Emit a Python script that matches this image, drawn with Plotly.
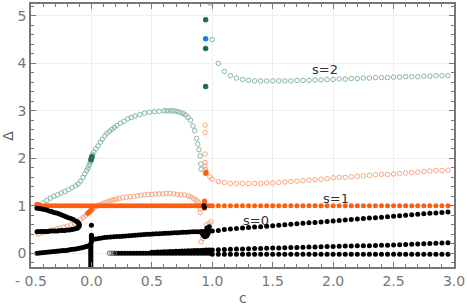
import plotly.graph_objects as go

# ---------------- data ----------------
# common c grid for the sparse part (c >= 1)
c_hi = [1.00, 1.05, 1.10, 1.15, 1.20, 1.25, 1.30, 1.35, 1.40, 1.45,
        1.50, 1.55, 1.60, 1.65, 1.70, 1.75, 1.80, 1.85, 1.90, 1.95,
        2.00, 2.05, 2.10, 2.15, 2.20, 2.25, 2.30, 2.35, 2.40, 2.45,
        2.50, 2.55, 2.60, 2.65, 2.70, 2.75, 2.80, 2.85, 2.90, 2.95]

# s=2 (teal, open) lower arc
s2a_c = [-0.43, -0.40, -0.37, -0.34, -0.31, -0.28, -0.25, -0.22, -0.19, -0.16,
         -0.13, -0.11, -0.09, -0.07, -0.055, -0.04, -0.03, -0.02, -0.012, -0.006,
         -0.003, 0.0, 0.002, 0.004, 0.006, 0.01, 0.02, 0.035, 0.055, 0.075,
         0.09, 0.11, 0.13, 0.15, 0.17, 0.19, 0.21, 0.24, 0.27, 0.30,
         0.33, 0.36, 0.40, 0.44, 0.48, 0.52, 0.56, 0.60, 0.62, 0.64,
         0.66, 0.68, 0.70, 0.72, 0.74, 0.76, 0.78, 0.80, 0.82, 0.84,
         0.855, 0.87, 0.88, 0.89, 0.90, 0.905, 0.907]
s2a_d = [1.00, 1.06, 1.11, 1.16, 1.20, 1.23, 1.27, 1.30, 1.34, 1.38,
         1.42, 1.46, 1.52, 1.60, 1.67, 1.74, 1.79, 1.85, 1.90, 1.94,
         1.97, 1.99, 2.01, 2.03, 2.05, 2.08, 2.13, 2.20, 2.26, 2.34,
         2.40, 2.47, 2.53, 2.57, 2.61, 2.65, 2.69, 2.74, 2.78, 2.83,
         2.86, 2.89, 2.92, 2.95, 2.97, 2.98, 2.99, 3.00, 3.00, 3.00,
         3.00, 3.00, 2.99, 2.98, 2.96, 2.94, 2.91, 2.86, 2.80, 2.68,
         2.58, 2.42, 2.30, 2.18, 2.05, 1.88, 1.77]
# s=2 upper branch
s2b_c = [0.98]
s2b_d = [5.27]
s2_hi_d = [4.50, 4.00, 3.83, 3.74, 3.69, 3.66, 3.64, 3.63, 3.63, 3.63,
           3.63, 3.63, 3.63, 3.63, 3.64, 3.64, 3.64, 3.65, 3.65, 3.66,
           3.66, 3.67, 3.67, 3.68, 3.68, 3.69, 3.69, 3.70, 3.70, 3.70,
           3.71, 3.71, 3.72, 3.72, 3.72, 3.73, 3.73, 3.74, 3.74, 3.74]
# s=2 filled points
s2f_c = [-0.003, 0.0, 0.003, 0.945, 0.945, 0.945]
s2f_d = [1.97, 2.00, 2.03, 4.92, 4.31, 3.51]
blue_c = [0.945]
blue_d = [4.52]

# s=1 (orange, open)
s1oa_c = [-0.44, -0.41, -0.38, -0.35, -0.32, -0.29, -0.26, -0.23, -0.20, -0.17,
          -0.14, -0.115, -0.09, -0.07, -0.05, -0.035, -0.02, -0.008, 0.005, 0.02,
          0.035, 0.05, 0.07, 0.09, 0.11, 0.13, 0.15, 0.17, 0.19, 0.21,
          0.23, 0.26, 0.29, 0.32, 0.35, 0.38, 0.41, 0.44, 0.47, 0.50,
          0.53, 0.56, 0.59, 0.62, 0.65, 0.68, 0.71, 0.74, 0.77, 0.80,
          0.82, 0.84, 0.86, 0.875, 0.885, 0.895, 0.90, 0.90]
s1oa_d = [0.40, 0.43, 0.45, 0.47, 0.49, 0.51, 0.53, 0.55, 0.57, 0.60,
          0.63, 0.67, 0.71, 0.75, 0.79, 0.83, 0.86, 0.89, 0.92, 0.95,
          0.98, 1.00, 1.02, 1.04, 1.06, 1.08, 1.10, 1.12, 1.13, 1.14,
          1.15, 1.17, 1.18, 1.19, 1.20, 1.21, 1.22, 1.23, 1.24, 1.24,
          1.25, 1.25, 1.25, 1.26, 1.26, 1.25, 1.24, 1.23, 1.23, 1.21,
          1.19, 1.16, 1.13, 1.10, 1.07, 1.00, 0.94, 0.86]
s1ob_c = [0.907, 0.92, 0.953, 0.975, 0.99, 0.94, 0.94, 0.94, 0.94, 0.94, 0.942, 0.944, 0.98]
s1ob_d = [0.24, 0.31, 0.60, 0.63, 0.66, 2.70, 2.54, 2.09, 1.91, 1.84, 1.77, 1.72, 1.61]
s1o_hi_d = [1.56, 1.51, 1.49, 1.47, 1.47, 1.47, 1.47, 1.47, 1.47, 1.48,
            1.48, 1.49, 1.50, 1.51, 1.52, 1.53, 1.54, 1.55, 1.56, 1.57,
            1.59, 1.60, 1.60, 1.61, 1.62, 1.63, 1.64, 1.65, 1.66, 1.66,
            1.67, 1.68, 1.69, 1.70, 1.71, 1.72, 1.73, 1.74, 1.74, 1.75]

# s=1 (orange, filled)
s1f_c = [-0.45, -0.425, -0.40, -0.375, -0.35, -0.325, -0.30, -0.275, -0.25, -0.225,
         -0.20, -0.175, -0.15, -0.125, -0.10, -0.075, -0.05, -0.025, 0.0, 0.025,
         0.05, 0.075, 0.10, 0.125, 0.15, 0.175, 0.20, 0.225, 0.25, 0.275,
         0.30, 0.325, 0.35, 0.375, 0.40, 0.425, 0.45, 0.475, 0.50, 0.525,
         0.55, 0.575, 0.60, 0.625, 0.65, 0.675, 0.70, 0.725, 0.75, 0.775,
         0.80, 0.825, 0.85, 0.875, 0.90, 0.925, 0.95, 0.975]
s1f_d = [1.0, 1.0, 1.0, 1.0, 1.0, 1.0, 1.0, 1.0, 1.0, 1.0,
         1.0, 1.0, 1.0, 1.0, 1.0, 1.0, 1.0, 1.0, 1.0, 1.0,
         1.0, 1.0, 1.0, 1.0, 1.0, 1.0, 1.0, 1.0, 1.0, 1.0,
         1.0, 1.0, 1.0, 1.0, 1.0, 1.0, 1.0, 1.0, 1.0, 1.0,
         1.0, 1.0, 1.0, 1.0, 1.0, 1.0, 1.0, 1.0, 1.0, 1.0,
         1.0, 1.0, 1.0, 1.0, 1.0, 1.0, 1.0, 1.0]
s1fx_c = [-0.45, -0.45, -0.435, -0.435, -0.03, -0.02, -0.01, 0.0,
          0.935, 0.935, 0.935, 0.94, 0.945, 0.95]
s1fx_d = [0.97, 1.03, 0.98, 1.02, 0.84, 0.87, 0.89, 0.91,
          0.95, 1.05, 1.10, 1.02, 1.68, 1.70]
s1f_hi_d = [1.0, 1.0, 1.0, 1.0, 1.0, 1.0, 1.0, 1.0, 1.0, 1.0,
            1.0, 1.0, 1.0, 1.0, 1.0, 1.0, 1.0, 1.0, 1.0, 1.0,
            1.0, 1.0, 1.0, 1.0, 1.0, 1.0, 1.0, 1.0, 1.0, 1.0,
            1.0, 1.0, 1.0, 1.0, 1.0, 1.0, 1.0, 1.0, 1.0, 1.0]

# s=0 (black, filled)
s0_fold_c = [-0.45, -0.43, -0.41, -0.39, -0.37, -0.35, -0.33, -0.31, -0.29, -0.27,
             -0.25, -0.23, -0.21, -0.19, -0.17, -0.15, -0.13, -0.115, -0.105, -0.10,
             -0.102, -0.108, -0.115, -0.125, -0.14, -0.16, -0.18, -0.20, -0.22, -0.24,
             -0.26, -0.28, -0.30, -0.32, -0.34, -0.36, -0.38, -0.40, -0.42, -0.44, -0.45]
s0_fold_d = [0.95, 0.94, 0.93, 0.92, 0.91, 0.89, 0.88, 0.86, 0.85, 0.83,
             0.81, 0.79, 0.77, 0.75, 0.73, 0.71, 0.68, 0.66, 0.63, 0.60,
             0.57, 0.55, 0.53, 0.52, 0.51, 0.50, 0.49, 0.49, 0.48, 0.48,
             0.48, 0.47, 0.47, 0.47, 0.47, 0.46, 0.46, 0.46, 0.46, 0.45, 0.45]
s0_low_c = [-0.45, -0.43, -0.41, -0.39, -0.37, -0.35, -0.33, -0.31, -0.29, -0.27,
            -0.25, -0.23, -0.21, -0.19, -0.17, -0.15, -0.13, -0.11, -0.09, -0.07,
            -0.05, -0.035, -0.02, -0.01]
s0_low_d = [0.00, 0.005, 0.01, 0.015, 0.02, 0.025, 0.03, 0.035, 0.04, 0.045,
            0.05, 0.055, 0.06, 0.07, 0.08, 0.085, 0.09, 0.10, 0.11, 0.12,
            0.135, 0.145, 0.16, 0.175]
s0_vert_c = [-0.005, -0.005, -0.005, -0.005, -0.005, -0.005, -0.005, -0.005, -0.005, -0.005,
             -0.005, -0.005, -0.005, 0.0, 0.0, 0.0, 0.0, 0.0, 0.0, 0.0]
s0_vert_d = [-0.28, -0.24, -0.20, -0.16, -0.12, -0.08, -0.04, 0.00, 0.04, 0.08,
             0.12, 0.16, 0.20, 0.24, 0.27, 0.30, 0.33, 0.36, 0.38, 0.59]
s0_mid_c = [0.01, 0.035, 0.06, 0.085, 0.11, 0.135, 0.16, 0.185, 0.21, 0.235,
            0.26, 0.285, 0.31, 0.335, 0.36, 0.385, 0.41, 0.435, 0.46, 0.485,
            0.51, 0.535, 0.56, 0.585, 0.61, 0.635, 0.66, 0.685, 0.71, 0.735,
            0.76, 0.785, 0.81, 0.835, 0.86, 0.885, 0.91, 0.935]
s0_mid_d = [0.29, 0.30, 0.31, 0.32, 0.33, 0.335, 0.34, 0.345, 0.35, 0.355,
            0.36, 0.365, 0.37, 0.375, 0.38, 0.385, 0.39, 0.395, 0.40, 0.40,
            0.405, 0.41, 0.41, 0.415, 0.42, 0.42, 0.425, 0.43, 0.43, 0.435,
            0.44, 0.44, 0.445, 0.45, 0.45, 0.455, 0.46, 0.46]
s0_bot_c = [0.20, 0.225, 0.25, 0.275, 0.30, 0.325, 0.35, 0.375, 0.40, 0.425,
            0.45, 0.475, 0.50, 0.525, 0.55, 0.575, 0.60, 0.625, 0.65, 0.675,
            0.70, 0.725, 0.75, 0.775, 0.80, 0.825, 0.85, 0.875, 0.90, 0.925,
            0.95, 0.975]
s0_bot_d = [0.00, 0.00, 0.00, 0.00, 0.00, 0.00, 0.00, 0.00, 0.00, 0.00,
            0.00, 0.00, 0.00, 0.00, 0.00, 0.00, 0.00, 0.00, 0.00, 0.00,
            0.00, 0.00, 0.00, 0.00, 0.00, 0.00, 0.00, 0.00, 0.00, 0.00,
            0.00, 0.00]
s0_bot2_c = [0.50, 0.525, 0.55, 0.575, 0.60, 0.625, 0.65, 0.675, 0.70, 0.725,
             0.75, 0.775, 0.80, 0.825, 0.85, 0.875, 0.90, 0.925, 0.95, 0.975]
s0_bot2_d = [0.02, 0.022, 0.025, 0.027, 0.03, 0.032, 0.035, 0.037, 0.04, 0.042,
             0.045, 0.047, 0.05, 0.052, 0.055, 0.057, 0.06, 0.063, 0.066, 0.07]
s0_loop_c = [0.915, 0.925, 0.935, 0.945, 0.955, 0.965, 0.97, 0.965, 0.955, 0.975, 0.93, 0.935]
s0_loop_d = [0.42, 0.38, 0.35, 0.35, 0.37, 0.41, 0.46, 0.50, 0.53, 0.56, 1.00, 0.97]
s0_hi_mid_d = [0.47, 0.48, 0.50, 0.51, 0.52, 0.53, 0.54, 0.55, 0.56, 0.57,
               0.58, 0.59, 0.60, 0.61, 0.62, 0.63, 0.64, 0.65, 0.66, 0.67,
               0.68, 0.69, 0.70, 0.71, 0.72, 0.73, 0.74, 0.75, 0.76, 0.77,
               0.78, 0.79, 0.80, 0.81, 0.82, 0.83, 0.84, 0.85, 0.86, 0.87]
s0_hi_low1_d = [0.07, 0.075, 0.08, 0.085, 0.09, 0.09, 0.095, 0.10, 0.10, 0.105,
                0.11, 0.11, 0.115, 0.12, 0.12, 0.125, 0.13, 0.13, 0.135, 0.14,
                0.14, 0.145, 0.15, 0.15, 0.155, 0.16, 0.16, 0.165, 0.17, 0.17,
                0.175, 0.18, 0.185, 0.19, 0.195, 0.20, 0.205, 0.21, 0.215, 0.22]
s0_hi_low0_d = [-0.02, -0.02, -0.02, -0.02, -0.02, -0.02, -0.02, -0.02, -0.02, -0.02,
                -0.02, -0.02, -0.02, -0.02, -0.02, -0.02, -0.02, -0.02, -0.02, -0.02,
                -0.02, -0.02, -0.02, -0.02, -0.02, -0.02, -0.02, -0.02, -0.02, -0.02,
                -0.02, -0.02, -0.02, -0.02, -0.02, -0.02, -0.02, -0.02, -0.02, -0.02]
s0_open_c = [0.15, 0.17, 0.19]
s0_open_d = [0.0, 0.0, 0.0]

x_tickvals = [-0.5, 0.0, 0.5, 1.0, 1.5, 2.0, 2.5, 3.0]
x_ticktext = ["- 0.5", "0.0", "0.5", "1.0", "1.5", "2.0", "2.5", "3.0"]
y_tickvals = [0, 1, 2, 3, 4, 5]
y_ticktext = ["0", "1", "2", "3", "4", "5"]

labels = [("s=2", 1.93, 3.86), ("s=1", 2.02, 1.16), ("s=0", 1.36, 0.70)]

# ---------------- figure ----------------
TEAL_OPEN = "#86b6a7"
TEAL_FILL = "#1f6e5c"
ORANGE = "#ff5e0e"
ORANGE_OPEN = "#f8a681"
BLUE = "#1a80e6"

fig = go.Figure()


def add(xs, ys, color, open_=False, size=5):
    assert len(xs) == len(ys)
    if open_:
        marker = dict(symbol="circle-open", size=size, color=color, line=dict(width=1, color=color))
    else:
        marker = dict(symbol="circle", size=size, color=color, line=dict(width=0))
    fig.add_trace(go.Scatter(x=xs, y=ys, mode="markers", marker=marker,
                             showlegend=False, hoverinfo="skip"))


add(s2a_c, s2a_d, TEAL_OPEN, open_=True, size=4.5)
add(s2b_c + c_hi, s2b_d + s2_hi_d, TEAL_OPEN, open_=True, size=4.5)
add(s1oa_c + s1ob_c + c_hi, s1oa_d + s1ob_d + s1o_hi_d, ORANGE_OPEN, open_=True, size=4.5)
add(s1f_c + s1fx_c + c_hi, s1f_d + s1fx_d + s1f_hi_d, ORANGE, size=5)
add(s0_fold_c + s0_low_c + s0_vert_c + s0_mid_c + s0_bot_c + s0_bot2_c + s0_loop_c
    + c_hi + c_hi + c_hi,
    s0_fold_d + s0_low_d + s0_vert_d + s0_mid_d + s0_bot_d + s0_bot2_d + s0_loop_d
    + s0_hi_mid_d + s0_hi_low1_d + s0_hi_low0_d, "#000000", size=5)
add(s0_open_c, s0_open_d, "#666666", open_=True, size=4.5)
add(s2f_c, s2f_d, TEAL_FILL, size=5.5)
add(blue_c, blue_d, BLUE, size=5.5)

for txt, cx, cy in labels:
    fig.add_annotation(x=cx, y=cy, xref="x", yref="y", text=txt, showarrow=False,
                       font=dict(family="DejaVu Sans", size=13, color="#333333"))

fig.add_annotation(x=0.5, y=-0.117, xref="paper", yref="paper", text="c", showarrow=False,
                   yanchor="middle", font=dict(family="DejaVu Sans", size=14, color="#666666"))
fig.add_annotation(x=-0.056, y=0.5, xref="paper", yref="paper", text="Δ", showarrow=False,
                   textangle=-90, xanchor="center", font=dict(family="DejaVu Sans", size=14, color="#666666"))

axis_common = dict(
    showline=True, linecolor="#777777", linewidth=1.5, mirror="allticks",
    ticks="inside", ticklen=5, tickcolor="#777777", tickwidth=1,
    showgrid=True, gridcolor="#eeeeee", gridwidth=1, zeroline=False,
    ticklabeloverflow="allow",
    tickfont=dict(family="DejaVu Sans", size=14, color="#777777"),
)

fig.update_layout(
    width=467, height=305,
    margin=dict(l=31, r=9, t=2, b=38),
    paper_bgcolor="white", plot_bgcolor="white",
    xaxis=dict(range=[-0.5, 3.0], tickmode="array", tickvals=x_tickvals, ticktext=x_ticktext,
               minor=dict(dtick=0.1, tick0=0, ticks="inside", ticklen=3, tickcolor="#777777", showgrid=False),
               **axis_common),
    yaxis=dict(range=[-0.29, 5.25], tickmode="array", tickvals=y_tickvals, ticktext=y_ticktext,
               minor=dict(dtick=0.2, tick0=0, ticks="inside", ticklen=3, tickcolor="#777777", showgrid=False),
               **axis_common),
)

fig.write_html("out.html", config={"displayModeBar": False},
               post_script="document.body.style.margin='0';document.body.style.padding='0';")
